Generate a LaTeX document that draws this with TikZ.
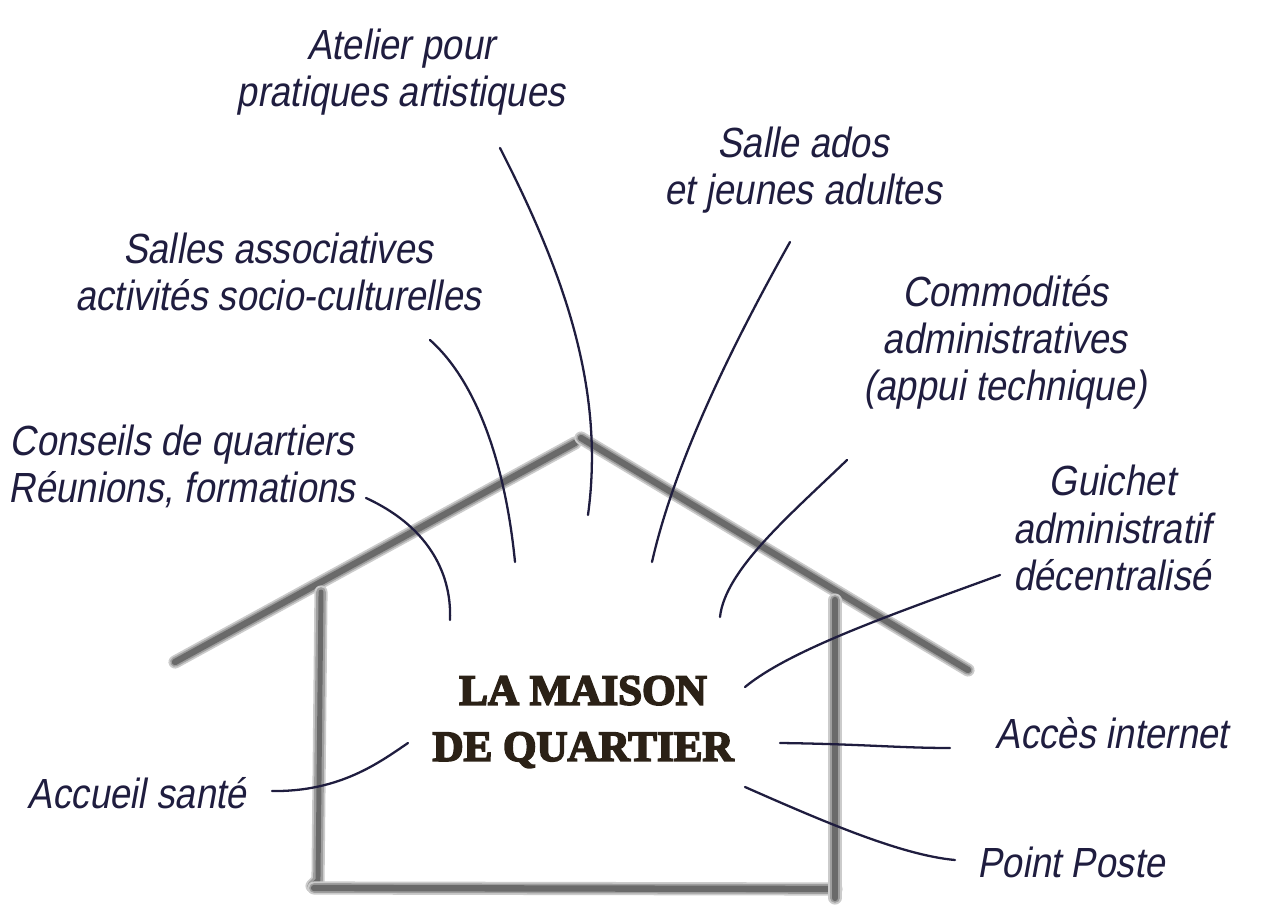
\documentclass[tikz,border=0pt]{standalone}
\usepackage{fontspec}
\newfontfamily\handfont[FakeStretch=0.87,FakeSlant=0.18]{Liberation Sans}
\newfontfamily\titlefont[FakeBold=4]{Liberation Serif}
\definecolor{ink}{HTML}{1F1D3F}
\definecolor{wallgray}{HTML}{6A6A6A}
\definecolor{stencil}{HTML}{2B2116}
\begin{document}
\begin{tikzpicture}[x=0.02cm,y=-0.02cm,
  label/.style={align=center,text=ink,font=\handfont\fontsize{24}{26.8}\selectfont,inner sep=0pt},
  link/.style={draw=ink,line width=1.3pt,line cap=round},
  wall/.style={draw=wallgray,line width=3.6pt,line cap=round,
    preaction={draw=wallgray!35,line width=7.5pt,line cap=round},
    preaction={draw=wallgray!65,line width=5.5pt,line cap=round}}]
  \useasboundingbox (0,0) rectangle (1280,915);
  \draw[wall] (175,662) -- (575,443);
  \draw[wall] (581,438) -- (968,670);
  \draw[wall,line width=2.8pt] (321,592) -- (318,880) -- (312,886);
  \draw[wall] (314,888) -- (836,889);
  \draw[wall] (835,600) -- (835,898);
  \node[text=stencil,font=\titlefont\bfseries\fontsize{24.5}{32}\selectfont,align=center,inner sep=0pt] (title) at (583,722) {LA MAISON\\DE QUARTIER};
  \node[label] (atelier) at (401,72) {Atelier pour\\pratiques artistiques};
  \node[label] (ados) at (803,170) {Salle ados\\et jeunes adultes};
  \node[label] (assoc) at (278,272) {Salles associatives\\activités socio-culturelles};
  \node[label] (commod) at (1005,342) {Commodités\\administratives\\(appui technique)};
  \node[label] (conseils) at (182,466) {Conseils de quartiers\\Réunions, formations};
  \node[label] (guichet) at (1112,528) {Guichet\\administratif\\décentralisé};
  \node[label] (internet) at (1112,733) {Accès internet};
  \node[label] (poste) at (1071,862) {Point Poste};
  \node[label] (sante) at (137,793) {Accueil santé};
  \coordinate (atelier-a) at (500,148);
  \coordinate (atelier-b) at (588,515);
  \coordinate (ados-a) at (790,242);
  \coordinate (ados-b) at (652,562);
  \coordinate (assoc-a) at (430,340);
  \coordinate (assoc-b) at (515,562);
  \coordinate (commod-a) at (847,460);
  \coordinate (commod-b) at (720,617);
  \coordinate (conseils-a) at (366,498);
  \coordinate (conseils-b) at (450,620);
  \coordinate (guichet-a) at (1000,575);
  \coordinate (guichet-b) at (745,687);
  \coordinate (internet-a) at (950,748);
  \coordinate (internet-b) at (780,743);
  \coordinate (poste-a) at (955,860);
  \coordinate (poste-b) at (745,787);
  \coordinate (sante-a) at (272,791);
  \coordinate (sante-b) at (408,743);
  \draw[link] (atelier-a) .. controls (565,275) and (605,390) .. (atelier-b);
  \draw[link] (ados-a) .. controls (735,340) and (675,460) .. (ados-b);
  \draw[link] (assoc-a) .. controls (475,380) and (505,460) .. (assoc-b);
  \draw[link] (commod-a) .. controls (790,515) and (725,570) .. (commod-b);
  \draw[link] (conseils-a) .. controls (425,525) and (452,570) .. (conseils-b);
  \draw[link] (guichet-a) .. controls (890,615) and (790,650) .. (guichet-b);
  \draw[link] (internet-a) .. controls (900,748) and (860,744) .. (internet-b);
  \draw[link] (poste-a) .. controls (900,855) and (820,820) .. (poste-b);
  \draw[link] (sante-a) .. controls (340,792) and (380,762) .. (sante-b);
\end{tikzpicture}
\end{document}
